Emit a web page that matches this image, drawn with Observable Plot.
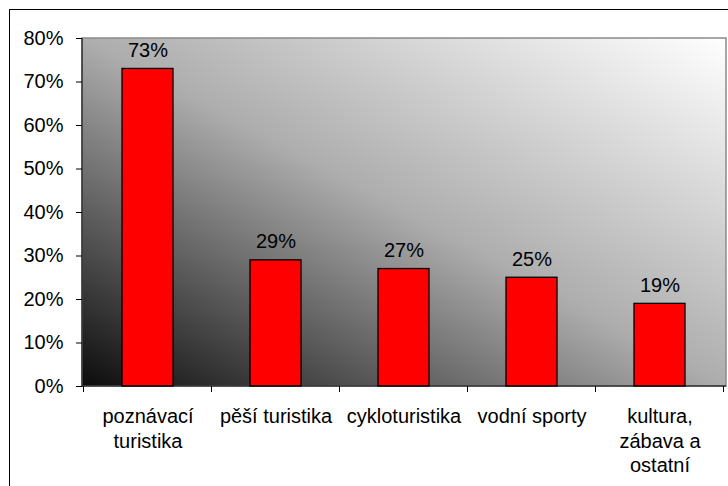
<!DOCTYPE html>
<html><head><meta charset="utf-8">
<script src="https://cdn.jsdelivr.net/npm/d3@7"></script>
<script src="https://cdn.jsdelivr.net/npm/@observablehq/plot@0.6"></script>
<style>
body{margin:0;background:#fff}
#wrap{position:relative;width:728px;height:486px;overflow:hidden}
#border{position:absolute;left:9px;top:9px;width:800px;height:800px;border-left:1px solid #000;border-top:1px solid #000;pointer-events:none}
</style>
</head><body><div id="wrap"><div id="border"></div></div>
<script>
const categories = ["poznávací\nturistika", "pěší turistika", "cykloturistika", "vodní sporty", "kultura,\nzábava a\nostatní"];
const values = [73, 29, 27, 25, 19];
const yTicks = [0, 10, 20, 30, 40, 50, 60, 70, 80];
const data = categories.map((c, i) => ({category: c, value: values[i]}));

function background(index, scales, vals, dims) {
  const g = d3.create("svg:g");
  const grad = g.append("defs").append("linearGradient").attr("id", "bgGrad")
    .attr("x1", 0).attr("y1", 1).attr("x2", 1).attr("y2", 0);
  grad.append("stop").attr("offset", 0).attr("stop-color", "#0c0c0c");
  grad.append("stop").attr("offset", 0.5).attr("stop-color", "#adadad");
  grad.append("stop").attr("offset", 1).attr("stop-color", "#ffffff");
  g.append("rect")
    .attr("x", dims.marginLeft).attr("y", dims.marginTop)
    .attr("width", dims.width - dims.marginLeft - dims.marginRight)
    .attr("height", dims.height - dims.marginTop - dims.marginBottom)
    .attr("fill", "url(#bgGrad)")
    .attr("stroke", "#8a8a8a").attr("stroke-width", 1.5);
  return g.node();
}

function axesLines(index, scales, vals, dims) {
  const g = d3.create("svg:g").attr("stroke", "#000").attr("fill", "none");
  const x = scales.x;
  const left = dims.marginLeft, right = dims.width - dims.marginRight;
  const top = dims.marginTop, bottom = dims.height - dims.marginBottom;
  g.append("line").attr("x1", left).attr("x2", left).attr("y1", top).attr("y2", bottom + 0.5);
  g.append("line").attr("x1", left).attr("x2", right).attr("y1", bottom).attr("y2", bottom);
  const step = x.step(), bw = x.bandwidth();
  const bounds = categories.map(c => x(c) + bw / 2 - step / 2);
  bounds.push(x(categories[categories.length - 1]) + bw / 2 + step / 2);
  for (const b of bounds) {
    g.append("line").attr("x1", b).attr("x2", b).attr("y1", bottom).attr("y2", bottom + 6);
  }
  return g.node();
}

const chart = Plot.plot({
  width: 728,
  height: 486,
  marginLeft: 82,
  marginRight: 2,
  marginTop: 38,
  marginBottom: 100,
  style: {fontFamily: "Arial, 'Liberation Sans', sans-serif", fontSize: "20px", color: "#000", background: "transparent"},
  x: {domain: categories, paddingInner: 0.6, paddingOuter: 0.3},
  y: {domain: [0, 80]},
  marks: [
    background,
    Plot.barY(data, {x: "category", y: "value", fill: "#ff0000", stroke: "#000", strokeWidth: 1.3}),
    Plot.text(data, {x: "category", y: "value", text: d => d.value + "%", lineAnchor: "bottom", dy: -12, fontSize: 20, fill: "#000"}),
    axesLines,
    Plot.axisY({ticks: yTicks, tickFormat: d => d + "%", tickSize: 6, tickPadding: 13, fontSize: 20, fill: "#000", stroke: "#000", label: null}),
    Plot.axisX({tickSize: 0, tickPadding: 19, fontSize: 20, lineHeight: 1.23, fill: "#000", label: null})
  ]
});
document.getElementById("wrap").appendChild(chart);
chart.style.position = "absolute";
chart.style.left = "0";
chart.style.top = "0";
</script>
</body></html>
